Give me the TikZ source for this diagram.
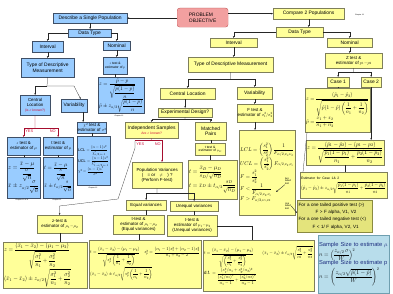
\documentclass[tikz,border=0pt]{standalone}
\usepackage{amsmath}
\usepackage{fontspec}
\setmainfont{Liberation Sans}
\usetikzlibrary{arrows.meta,calc}
\definecolor{bfill}{HTML}{99CCFF}
\definecolor{bline}{HTML}{3F4F66}
\definecolor{yfill}{HTML}{FFFF99}
\definecolor{yline}{HTML}{7F7F5A}
\definecolor{pfill}{HTML}{F2A0A0}
\definecolor{pline}{HTML}{B03A3A}
\definecolor{rtxt}{HTML}{D0103A}
\definecolor{ofill}{HTML}{E4E47C}
\definecolor{oline}{HTML}{8A8A40}
\definecolor{sfill}{HTML}{B8DDEB}
\definecolor{sline}{HTML}{6F9FB0}
\definecolor{stxt}{HTML}{1E2F80}
\newsavebox\fitbox
\newcommand\fitin[3]{\sbox\fitbox{\begin{tabular}{@{}l@{}}#3\end{tabular}}%
 \pgfmathsetmacro\fitsx{(#1)/(\the\wd\fitbox)}%
 \pgfmathsetmacro\fitsy{(#2)/(\the\ht\fitbox+\the\dp\fitbox)}%
 \pgfmathsetmacro\fits{min(\fitsx,\fitsy,1.7)}%
 \scalebox{\fits}{\usebox\fitbox}}
\newcommand\B[7]{\node[#1,minimum width=#5mm,minimum height=#6mm] (#2) at (#3,#4) {#7};}
\newcommand\F[8]{\pgfmathsetlengthmacro\ftw{#5mm-2mm}\pgfmathsetlengthmacro\fw{#5mm-2.4mm}\pgfmathsetlengthmacro\fh{#6mm-2mm}%
 \node[#1,fml,fs=#8,text width=\ftw,minimum height=#6mm] (#2) at (#3,#4) {\fitin{\fw}{\fh}{#7}};}
\begin{document}
\begin{tikzpicture}[x=1mm,y=-1mm,
 base/.style={anchor=north west,align=center,line width=0.7pt,inner sep=0.5mm,font=\fontsize{14}{16}\selectfont},
 bbox/.style={base,fill=bfill,draw=bline},
 ybox/.style={base,fill=yfill,draw=yline},
 pbox/.style={base,fill=pfill,draw=pline,rounded corners=2.5mm},
 fs/.style={font=\fontsize{#1}{#1}\selectfont},
 mid/.style={font=\fontsize{12.5}{14}\selectfont},
 sml/.style={font=\fontsize{9.5}{11}\selectfont},
 fml/.style={align=left,inner xsep=1mm,inner ysep=0.5mm},
 chap/.style={font=\fontsize{5}{6}\selectfont,inner sep=0},
 arr/.style={-{Stealth[length=2mm,width=1.5mm]},line width=0.7pt,draw=black!85},
 ln/.style={line width=0.7pt,draw=black!85},
 rarr/.style={arr,draw=rtxt!80!black},
 rln/.style={ln,draw=rtxt!80!black},
 rlab/.style={text=rtxt,font=\fontsize{11}{12}\selectfont,inner sep=0.3mm},
 tag/.style={font=\fontsize{7}{7.5}\selectfont,align=left,inner sep=0.2mm},
]
\fill[white] (0,0) rectangle (393,294);
\useasboundingbox (0,0) rectangle (393,294);

% ---------- top ----------
\B{pbox,align=left}{po}{177}{8}{51}{19}{PROBLEM\\OBJECTIVE}
\B{bbox}{desc}{53}{13}{74}{10}{Describe a Single Population}
\B{ybox}{comp}{273}{8}{71}{11}{Compare 2 Populations}
\node[chap,anchor=west] (ch13) at (355,15) {Chapter 13};

% ---------- single population (blue) ----------
\B{bbox}{dt1}{68}{29}{43}{8}{Data Type}
\B{bbox}{int1}{32}{41}{31}{11}{Interval}
\B{bbox}{nom1}{103}{41}{27}{9}{Nominal}
\B{bbox}{tdm1}{21}{58}{53}{19}{Type of Descriptive\\Measurement}
\B{bbox,sml}{zp}{103}{57}{24}{17}{$z$ test \&\\estimator of $p$}
\F{bbox}{zpf}{98}{77}{46}{36}{$z=\dfrac{\hat p-p}{\sqrt{\dfrac{p(1-p)}{n}}}$\\[3pt]$\hat p\pm z_{\alpha/2}\sqrt{\dfrac{\hat p(1-\hat p)}{n}}$}{14}
\node[chap] (ch12a) at (119,116) {Chapter 12};
\B{bbox,mid}{cl1}{20}{95}{30}{20}{Central\\Location\\{\color{rtxt}\fontsize{9.5}{10}\selectfont(is $\sigma$ known?)}}
\B{bbox}{var1}{61}{99}{26}{13}{Variability}
\B{bbox,mid}{zmu}{7}{137}{33}{18}{$z$ test \&\\estimator of $\mu$}
\B{bbox,mid}{tmu}{43}{137}{30}{18}{t test \&\\estimator of $\mu$}
\B{bbox,mid}{chi}{77}{122}{29}{11}{$\chi^2$ test \&\\estimator of $\sigma^2$}
\F{bbox}{zmuf}{7}{157}{33}{41}{$z=\dfrac{\bar x-\mu}{\dfrac{\sigma}{\sqrt{n}}}$\\[10pt]$\bar x\pm z_{\alpha/2}\dfrac{\sigma}{\sqrt{n}}$}{14}
\F{bbox}{tmuf}{43}{157}{30}{41}{$t=\dfrac{\bar x-\mu}{\dfrac{s}{\sqrt{n}}}$\\[10pt]$\bar x\pm t_{\alpha/2}\dfrac{s}{\sqrt{n}}$}{14}
\F{bbox}{chif}{77}{136}{33}{49}{LCL $=\dfrac{(n-1)s^2}{\chi^2_{\alpha/2,n-1}}$\\[8pt]UCL $=\dfrac{(n-1)s^2}{\chi^2_{1-\alpha/2,n-1}}$\\[8pt]$\chi^2=\dfrac{(n-1)s^2}{\sigma^2}$}{14}
\node[chap] (ch12b) at (93,188) {Chapter 12};
\node[chap] (ch1011) at (22,200) {Chapter 10 \& 11};
\node[chap] (ch11) at (57,200) {Chapter 11};

% ---------- two populations (yellow) ----------
\B{ybox}{dt2}{276}{27}{47}{10}{Data Type}
\B{ybox}{int2}{210}{38}{47}{9}{Interval}
\B{ybox}{nom2}{327}{38}{45}{9}{Nominal}
\B{ybox}{tdm2}{188}{57}{85}{15}{Type of Descriptive Measurement}
\B{ybox}{cl2}{160}{88}{55}{11}{Central Location}
\B{ybox}{var2}{237}{87}{35}{12}{Variability}
\B{ybox}{ed}{158}{108}{54}{9}{Experimental Design?}
\B{ybox}{ind}{125}{122}{53}{16}{Independent Samples\\{\color{rtxt}\fontsize{9.5}{10}\selectfont Are $\sigma$ known?}}
\B{ybox}{mp}{195}{122}{31}{18}{Matched\\Pairs}
\B{ybox,sml}{tmd}{195}{143}{30}{12}{t test \&\\estimator of $\mu_D$}
\F{ybox}{tmdf}{188}{160}{49}{39}{$t=\dfrac{\bar x_D-\mu_D}{s_D/\sqrt{n_D}}$\\[12pt]$t=\bar x_D\pm t_{\alpha/2}\dfrac{s_D}{\sqrt{n_D}}$}{14}
\B{ybox,mid}{pv}{132}{162}{50}{26}{Population Variances\\(\hspace{1em}= or\hspace{1em}$\neq$\hspace{1em}) ?\\(Perform F-test)}
\B{ybox,mid}{eqv}{126}{200}{40}{10}{Equal variances}
\B{ybox,mid}{uneqv}{170}{201}{48}{10}{Unequal variances}
\B{ybox,mid}{teq}{113}{215}{51}{19}{t-test \&\\estimator of $\mu_1\!-\!\mu_2$\\(Equal variances)}
\B{ybox,mid}{tun}{167}{215}{50}{21}{t-test \&\\estimator of $\mu_1\!-\!\mu_2$\\(Unequal variances)}
\B{ybox,mid}{zmm}{37}{215}{45}{18}{z-test \&\\estimator of $\mu_1\!-\!\mu_2$}
\F{ybox}{zmmf}{3}{242}{84}{46}{$z=\dfrac{(\bar x_1-\bar x_2)-(\mu_1-\mu_2)}{\sqrt{\dfrac{\sigma_1^2}{n_1}+\dfrac{\sigma_2^2}{n_2}}}$\\[6pt]$(\bar x_1-\bar x_2)\pm z_{\alpha/2}\sqrt{\dfrac{\sigma_1^2}{n_1}+\dfrac{\sigma_2^2}{n_2}}$}{14}
\F{ybox}{teqf}{89}{240}{112}{48}{$t=\dfrac{(\bar x_1-\bar x_2)-(\mu_1-\mu_2)}{\sqrt{s_p^2\left(\dfrac{1}{n_1}+\dfrac{1}{n_2}\right)}}$\quad$s_p^2=\dfrac{(n_1-1)s_1^2+(n_2-1)s_2^2}{n_1+n_2-2}$\\[6pt]$(\bar x_1-\bar x_2)\pm t_{\alpha/2}\sqrt{s_p^2\left(\dfrac{1}{n_1}+\dfrac{1}{n_2}\right)}$}{14}
\F{ybox}{tunf}{203}{240}{111}{51}{$t=\dfrac{(\bar x_1-\bar x_2)-(\mu_1-\mu_2)}{\sqrt{\left(\dfrac{s_1^2}{n_1}+\dfrac{s_2^2}{n_2}\right)}}$\qquad$(\bar x_1-\bar x_2)\pm t_{\alpha/2}\sqrt{\dfrac{s_1^2}{n_1}+\dfrac{s_2^2}{n_2}}$\\[4pt]d.f. $=\dfrac{(s_1^2/n_1+s_2^2/n_2)^2}{\dfrac{(s_1^2/n_1)^2}{n_1-1}+\dfrac{(s_2^2/n_2)^2}{n_2-1}}$}{14}
\B{ybox,mid}{ft}{237}{104}{31}{18}{F test \&\\estimator of $\sigma_1^2/\sigma_2^2$}
\F{ybox}{ftf}{239}{130}{56}{85}{$LCL=\left(\dfrac{s_1^2}{s_2^2}\right)\dfrac{1}{F_{\alpha/2,\nu_1,\nu_2}}$\\[8pt]$UCL=\left(\dfrac{s_1^2}{s_2^2}\right)F_{\alpha/2,\nu_2,\nu_1}$\\[8pt]$F=\dfrac{s_1^2}{s_2^2}$\\[8pt]$F<\dfrac{1}{F_{\alpha/2,\nu_2,\nu_1}}$\\[6pt]$F>F_{\alpha/2,\nu_1,\nu_2}$}{14}
\node[tag] (tt) at (288,181) {two\\tailed\\test};
\node[tag] (ot) at (288,206) {one\\tailed\\test};
\B{ybox,mid}{zpp}{325}{53}{57}{15}{Z test \&\\estimator of $p_1\!-\!p_2$}
\B{ybox}{c1}{327}{77}{22}{10}{Case 1}
\B{ybox}{c2}{361}{77}{20}{10}{Case 2}
\F{ybox}{c1f}{305}{88}{65}{44}{$z=\dfrac{(\hat p_1-\hat p_2)}{\sqrt{\hat p(1-\hat p)\left(\dfrac{1}{n_1}+\dfrac{1}{n_2}\right)}}$\\[8pt]$\hat p=\dfrac{x_1+x_2}{n_1+n_2}$}{14}
\F{ybox}{c2f}{306}{140}{78}{25}{$z=\dfrac{(\hat p_1-\hat p_2)-(p_1-p_2)}{\sqrt{\dfrac{\hat p_1(1-\hat p_1)}{n_1}+\dfrac{\hat p_2(1-\hat p_2)}{n_2}}}$}{14}
\F{ybox}{est}{300}{172}{87}{26}{{\fontsize{10}{11}\selectfont Estimator for Case 1\& 2}\\[3pt]$(\hat p_1-\hat p_2)\pm z_{\alpha/2}\sqrt{\dfrac{\hat p_1(1-\hat p_1)}{n_1}+\dfrac{\hat p_2(1-\hat p_2)}{n_2}}$}{14}
\node[base,fill=ofill,draw=oline,minimum height=32mm,text width=72mm,align=left,inner xsep=1.5mm,font=\fontsize{13}{21}\selectfont] (one) at (297,200) {For a one tailed positive test (>)\\\hspace*{17mm}F > F alpha, V1, V2\\For a one tailed negative test (<)\\\hspace*{14mm}F < 1/ F alpha, V2, V1};
\F{base,fill=sfill,draw=sline}{ss}{318}{235}{71}{58}{{\color{stxt}Sample Size to estimate $\mu$}\\[2pt]$n=\left(\dfrac{z_{\alpha/2}\,\sigma}{W}\right)^2$\\[2pt]{\color{stxt}Sample Size to estimate p}\\[2pt]$n=\left(\dfrac{z_{\alpha/2}\sqrt{\hat p(1-\hat p)}}{W}\right)^2$}{14}

% ---------- connectors ----------
\draw[arr] (po.west |- desc.east) -- (desc.east);
\draw[arr] (po.east |- comp.west) -- (comp.west);
\draw[arr] (desc.south) -- (desc.south |- dt1.north);
\draw[arr] (dt1.west) -| (int1.north);
\draw[arr] (dt1.east) -| (nom1.north);
\draw[arr] (int1.south) -- (int1.south |- tdm1.north);
\draw[arr] (nom1.south) -- (nom1.south |- zp.north);
\draw[ln] (zp.south) -- (zp.south |- zpf.north);
\coordinate (s1) at (47,86);
\coordinate (s1r) at (74,86);
\coordinate (v1in) at ($(var1.north)!0.5!(var1.north east)$);
\draw[ln] (tdm1.south) -- (s1);
\draw[arr] (s1) -| (cl1.north);
\draw[arr] (s1) -- (s1r) -- (v1in);
\coordinate (c1s) at (35,128);
\draw[rln] (cl1.south) -- (c1s);
\draw[rarr] (c1s) -| (zmu.north);
\draw[rarr] (c1s) -| (tmu.north);
\node[rlab,anchor=north west] (yes1) at (25,129) {YES};
\node[rlab,anchor=north east] (no1) at (56,129) {NO};
\coordinate (v1o) at ($(var1.south)+(9,0)$);
\draw[arr] (v1o) -- (v1o |- chi.north);
\draw[ln] (chi.south) -- (chi.south |- chif.north);
\draw[ln] (zmu.south) -- (zmu.south |- zmuf.north);
\draw[ln] (tmu.south) -- (tmu.south |- tmuf.north);

\draw[arr] (comp.south) -- (comp.south |- dt2.north);
\draw[arr] (dt2.west) -| (int2.north);
\draw[arr] (dt2.east) -| (nom2.north);
\draw[arr] (int2.south) -- (int2.south |- tdm2.north);
\coordinate (s2) at (230.5,79);
\draw[ln] (tdm2.south) -- (s2);
\draw[arr] (s2) -| (cl2.north);
\draw[arr] (s2) -| (var2.north);
\draw[arr] (ed.north |- cl2.south) -- (ed.north);
\coordinate (s3) at (185,119.5);
\draw[ln] (ed.south) -- (s3);
\draw[arr] (s3) -| (ind.north);
\draw[arr] (s3) -| (mp.north);
\coordinate (s4) at (151.5,140.5);
\coordinate (yl) at (135,140.5);
\coordinate (pvin) at (162,162);
\coordinate (yb1) at (118,199);
\coordinate (yb2) at (59.5,206);
\draw[rln] (ind.south) -- (s4);
\draw[rln] (yl) -- (s4);
\draw[rarr] (s4) -| (pvin);
\draw[arr] (yl) -- (135,148) -- (yb1) -- (yb2) -- (zmm.north);
\node[rlab,anchor=north west] (yes2) at (136,142) {YES};
\node[rlab,anchor=north east] (no2) at (161,142) {NO};
\draw[ln] (mp.south) -- (mp.south |- tmd.north);
\draw[ln] (tmd.south) -- (tmd.south |- tmdf.north);
\coordinate (s5) at (157,193);
\draw[ln] (pv.south) -- (s5);
\draw[arr] (s5) -| (eqv.north);
\draw[arr] (s5) -| (uneqv.north);
\draw[ln] (eqv.south) -- (eqv.south |- teq.north);
\draw[ln] (uneqv.south) -- (uneqv.south |- tun.north);
\draw[ln] (teq.south) -- (teq.south |- teqf.north);
\coordinate (tuo) at (252,240);
\draw[ln] (tun.east) -| (tuo);
\draw[ln] (zmm.south) -- (zmm.south |- zmmf.north);
\draw[arr] (var2.south) -- (var2.south |- ft.north);
\draw[arr] (ft.south) -- (ft.south |- ftf.north);
\coordinate (ttp) at (276,192);
\draw[arr,line width=1pt] (tt.south west) -- (ttp);
\draw[arr,line width=1pt] (ot.east) -- ($(one.north west)+(0,13)$);

\draw[arr] (nom2.south) -- (nom2.south |- zpp.north);
\coordinate (s6) at (353.5,72);
\draw[ln] (zpp.south) -- (s6);
\draw[arr] (s6) -| (c1.north);
\draw[arr] (s6) -| (c2.north);
\draw[ln] (c1.south) -- (c1.south |- c1f.north);
\draw[arr] (c2.south) -- (c2.south |- c2f.north);
\draw[ln] ($(c1f.south west)+(2,0)$) -- ($(est.north west)+(3,0)$);
\draw[ln] (c2f.south) -- (c2f.south |- est.north);
\end{tikzpicture}
\end{document}
